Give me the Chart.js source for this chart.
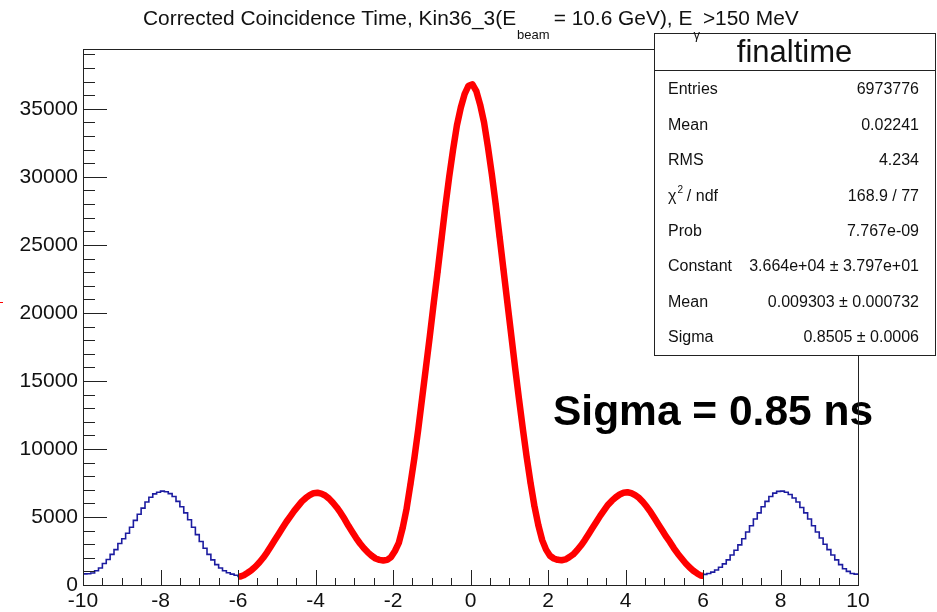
<!DOCTYPE html>
<html>
<head>
<meta charset="utf-8">
<script src="https://cdn.jsdelivr.net/npm/chart.js@4.4.0/dist/chart.umd.min.js"></script>
<style>
  html, body { margin: 0; padding: 0; background: #fff; }
  #wrap { width: 937px; height: 612px; }
</style>
</head>
<body>
<div id="wrap"><canvas id="finaltime" width="937" height="612"></canvas></div>
<script>
// histogram "finaltime": 200 bins of 0.1 ns from -10 to 10
var xMin = -10, xMax = 10, binWidth = 0.1;
var counts = [
  820, 830, 880, 1050, 1250, 1580, 1870, 2250, 2600, 3050,
  3400, 3800, 4250, 4750, 5200, 5650, 6100, 6450, 6700, 6820,
  6900, 6850, 6720, 6500, 6150, 5750, 5300, 4800, 4250, 3700,
  3200, 2700, 2250, 1850, 1500, 1250, 1050, 900, 800, 720,
  620, 720, 900, 1100, 1350, 1650, 2000, 2400, 2850, 3300,
  3750, 4200, 4650, 5050, 5450, 5800, 6150, 6400, 6600, 6750,
  6780, 6720, 6580, 6350, 6050, 5700, 5300, 4850, 4350, 3900,
  3450, 3050, 2700, 2400, 2150, 1950, 1850, 1800, 1850, 2050,
  2500, 3100, 4200, 5600, 7400, 9300, 11400, 13700, 16000, 18300,
  20700, 23000, 25400, 27800, 30000, 32000, 33800, 35100, 36100, 36700,
  36800, 36300, 35300, 34000, 32200, 30200, 28000, 25600, 23200, 20800,
  18400, 16000, 13700, 11500, 9400, 7500, 5800, 4400, 3300, 2600,
  2150, 1950, 1850, 1820, 1880, 2050, 2250, 2550, 2900, 3300,
  3750, 4200, 4650, 5100, 5500, 5900, 6200, 6450, 6650, 6780,
  6820, 6750, 6600, 6400, 6100, 5750, 5350, 4900, 4450, 4000,
  3550, 3150, 2700, 2300, 1950, 1600, 1300, 1050, 850, 680,
  780, 850, 950, 1100, 1300, 1550, 1850, 2200, 2550, 2950,
  3400, 3900, 4350, 4850, 5300, 5750, 6150, 6500, 6750, 6880,
  6900, 6820, 6650, 6400, 6100, 5700, 5300, 4850, 4350, 3900,
  3450, 3000, 2600, 2200, 1850, 1500, 1200, 1000, 850, 800
];
// fit range -6 .. 6 (bin indices)
var fitFirstBin = 40, fitLastBin = 159;

var xTicks = [-10, -8, -6, -4, -2, 0, 2, 4, 6, 8, 10];
var yTicks = [0, 5000, 10000, 15000, 20000, 25000, 30000, 35000];
var yMax = 39400;
var xMinorStep = 0.5, yMinorStep = 1000;

var statsTitle = "finaltime";
var statsLabels = ["Entries", "Mean", "RMS", "\u03c7\u00b2 / ndf", "Prob", "Constant", "Mean", "Sigma"];
var statsValues = ["6973776", "0.02241", "4.234", "168.9 / 77", "7.767e-09",
                   "3.664e+04 \u00b1 3.797e+01", "0.009303 \u00b1 0.000732", "0.8505 \u00b1 0.0006"];

var FONT = '"Liberation Sans", Arial, Helvetica, sans-serif';

// histogram: stepped points at the low edge of each bin (+ closing point)
var histPoints = counts.map(function (c, i) {
  return { x: xMin + i * binWidth, y: c };
});
histPoints.push({ x: xMax, y: counts[counts.length - 1] });

// fit curve through the bin centres, -6 .. 6
var fitPoints = [{ x: xMin + fitFirstBin * binWidth, y: counts[fitFirstBin] }];
for (var i = fitFirstBin; i <= fitLastBin; i++) {
  fitPoints.push({ x: xMin + (i + 0.5) * binWidth, y: counts[i] });
}
fitPoints.push({ x: xMin + (fitLastBin + 1) * binWidth, y: counts[fitLastBin] });

function drawTitle(ctx) {
  var parts = [
    { t: "Corrected Coincidence Time, Kin36_3(E", sub: false, gap: 1 },
    { t: "beam", sub: true, gap: 4 },
    { t: "= 10.6 GeV), E", sub: false, gap: 1 },
    { t: "\u03b3", sub: true, gap: 3 },
    { t: ">150 MeV", sub: false, gap: 0 }
  ];
  var big = "20.9px " + FONT, small = "13px " + FONT;
  var x = 143;
  ctx.fillStyle = "#111";
  ctx.textAlign = "left";
  ctx.textBaseline = "alphabetic";
  parts.forEach(function (p) {
    ctx.font = p.sub ? small : big;
    ctx.fillText(p.t, x, p.sub ? 39 : 25);
    x += ctx.measureText(p.t).width + p.gap;
  });
}

function drawStats(ctx) {
  var left = 654, top = 33, right = 935, bottom = 355, head = 70;
  ctx.fillStyle = "#fff";
  ctx.fillRect(left, top, right - left, bottom - top);
  ctx.strokeStyle = "#222";
  ctx.lineWidth = 1;
  ctx.strokeRect(left + 0.5, top + 0.5, right - left, bottom - top);
  ctx.beginPath();
  ctx.moveTo(left, head + 0.5);
  ctx.lineTo(right, head + 0.5);
  ctx.stroke();

  ctx.fillStyle = "#111";
  ctx.textBaseline = "middle";
  ctx.textAlign = "center";
  ctx.font = "31px " + FONT;
  ctx.fillText(statsTitle, (left + right) / 2, 53);

  ctx.font = "16px " + FONT;
  for (var r = 0; r < statsLabels.length; r++) {
    var y = 90 + r * 35.4;
    ctx.textAlign = "left";
    var lab = statsLabels[r];
    if (lab.indexOf("\u00b2") >= 0) {
      // chi with superscript 2
      ctx.fillText("\u03c7", 668, y);
      var w = ctx.measureText("\u03c7").width;
      ctx.font = "10px " + FONT;
      ctx.fillText("2", 668 + w + 1, y - 6);
      ctx.font = "16px " + FONT;
      ctx.fillText(" / ndf", 668 + w + 6, y);
    } else {
      ctx.fillText(lab, 668, y);
    }
    ctx.textAlign = "right";
    ctx.fillText(statsValues[r], 919, y);
  }
}

var rootStyle = {
  id: "rootStyle",
  beforeDatasetsDraw: function (chart) {
    var ctx = chart.ctx;
    ctx.save();
    ctx.fillStyle = "#000";
    ctx.font = "bold 42.5px " + FONT;
    ctx.textAlign = "left";
    ctx.textBaseline = "alphabetic";
    ctx.fillText("Sigma = 0.85 ns", 553, 425);
    ctx.restore();
  },
  afterDatasetsDraw: function (chart) {
    var ctx = chart.ctx, a = chart.chartArea;
    var xs = chart.scales.x, ys = chart.scales.y;
    ctx.save();
    ctx.strokeStyle = "#222";
    ctx.lineWidth = 1;
    ctx.strokeRect(a.left + 0.5, a.top + 0.5, a.right - a.left, a.bottom - a.top);
    ctx.beginPath();
    // y ticks, drawn inside the frame
    for (var v = 0; v <= yMax; v += yMinorStep) {
      var py = Math.round(ys.getPixelForValue(v)) + 0.5;
      var len = (v % 5000 === 0) ? 24 : 12;
      ctx.moveTo(a.left, py);
      ctx.lineTo(a.left + len, py);
    }
    // x ticks
    for (var t = xMin; t <= xMax + 1e-9; t += xMinorStep) {
      var px = Math.round(xs.getPixelForValue(t)) + 0.5;
      var l2 = (Math.abs(t % 2) < 1e-9) ? 15 : 7;
      ctx.moveTo(px, a.bottom);
      ctx.lineTo(px, a.bottom - l2);
    }
    ctx.stroke();
    // small red stray mark at the left edge
    ctx.strokeStyle = "#f00";
    ctx.beginPath();
    ctx.moveTo(0, 302.5);
    ctx.lineTo(3, 302.5);
    ctx.stroke();
    ctx.restore();
  },
  afterDraw: function (chart) {
    var ctx = chart.ctx;
    ctx.save();
    drawStats(ctx);
    drawTitle(ctx);
    ctx.restore();
  }
};

new Chart(document.getElementById("finaltime"), {
  type: "line",
  data: {
    datasets: [
      {
        label: "finaltime",
        data: histPoints,
        stepped: true,
        borderColor: "#1c1ca0",
        borderWidth: 1.6,
        pointRadius: 0,
        fill: false,
        order: 2
      },
      {
        label: "fit",
        data: fitPoints,
        borderColor: "#ff0000",
        borderWidth: 6.5,
        borderJoinStyle: "round",
        borderCapStyle: "butt",
        tension: 0,
        pointRadius: 0,
        fill: false,
        order: 1
      }
    ]
  },
  options: {
    responsive: false,
    animation: false,
    events: [],
    layout: { padding: { left: 0, top: 49, right: 79, bottom: 0 } },
    plugins: {
      legend: { display: false },
      title: { display: false },
      tooltip: { enabled: false }
    },
    scales: {
      x: {
        type: "linear",
        min: xMin,
        max: xMax,
        grid: { display: false, drawTicks: false },
        border: { display: false },
        afterBuildTicks: function (s) { s.ticks = xTicks.map(function (v) { return { value: v }; }); },
        afterFit: function (s) { s.height = 27; },
        ticks: {
          autoSkip: false,
          maxRotation: 0,
          padding: 4,
          color: "#111",
          font: { family: FONT, size: 21 },
          callback: function (v) { return String(v); }
        }
      },
      y: {
        type: "linear",
        min: 0,
        max: yMax,
        grid: { display: false, drawTicks: false },
        border: { display: false },
        afterBuildTicks: function (s) { s.ticks = yTicks.map(function (v) { return { value: v }; }); },
        afterFit: function (s) { s.width = 83; },
        ticks: {
          autoSkip: false,
          padding: 5,
          color: "#111",
          font: { family: FONT, size: 21 },
          callback: function (v) { return String(v); }
        }
      }
    }
  },
  plugins: [rootStyle]
});
</script>
</body>
</html>
